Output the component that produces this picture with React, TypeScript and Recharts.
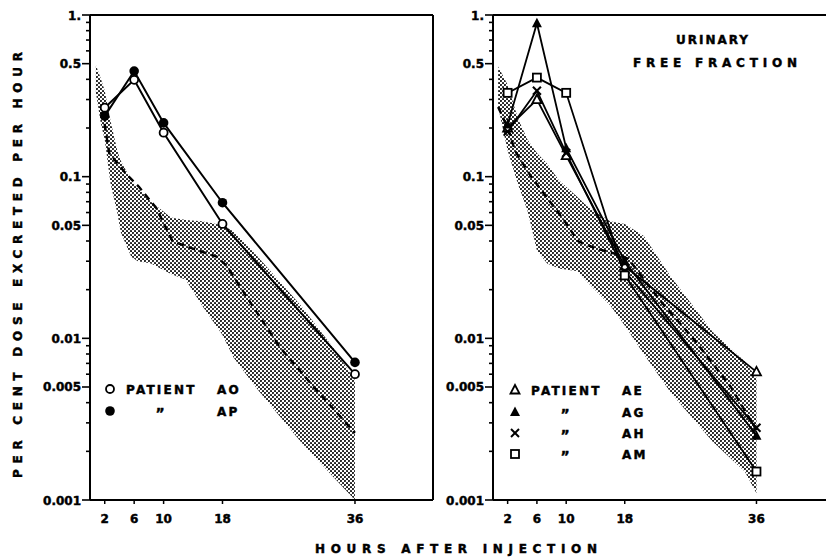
import React from "react";
import {
  ComposedChart,
  Line,
  Area,
  XAxis,
  YAxis,
  ReferenceLine,
} from "recharts";

// sampling times (hours after injection)
const hours = [2, 6, 10, 18, 36];

// left panel patients
const patientAO = [0.267, 0.397, 0.187, 0.051, 0.006];
const patientAP = [0.237, 0.45, 0.215, 0.069, 0.0071];

// right panel patients
const patientAE = [0.2, 0.3, 0.135, 0.028, 0.0062];
const patientAG = [0.21, 0.89, 0.15, 0.03, 0.0025];
const patientAH = [0.19, 0.34, 0.14, 0.026, 0.0028];
const patientAM = [0.33, 0.41, 0.33, 0.0245, 0.0015];

// normal range band, left panel: hour, low, high
const leftBandHours = [0.8, 1.5, 2, 2.8, 3.7, 4.2, 5.6, 6.5, 8.3, 11, 13, 15.2, 18, 19.5, 22.8, 28.6, 33, 36];
const leftBandLow = [0.33, 0.21, 0.17, 0.09, 0.06, 0.045, 0.032, 0.03, 0.029, 0.025, 0.023, 0.016, 0.0105, 0.0076, 0.0048, 0.0023, 0.0014, 0.001];
const leftBandHigh = [0.49, 0.4, 0.34, 0.22, 0.145, 0.125, 0.095, 0.085, 0.07, 0.056, 0.054, 0.053, 0.05, 0.046, 0.032, 0.016, 0.0088, 0.0055];

// mean curve, left panel
const leftMeanHours = [1.5, 2, 2.6, 4.9, 6.7, 9, 11.2, 13.1, 17.2, 18.6, 21.3, 25.8, 30.4, 36];
const leftMeanValues = [0.25, 0.21, 0.14, 0.104, 0.086, 0.064, 0.04, 0.037, 0.032, 0.028, 0.018, 0.0088, 0.005, 0.0026];

// normal range band, right panel
const rightBandHours = [0.7, 2, 3.4, 4.7, 6, 7.4, 9, 11.5, 13, 16, 18, 20.6, 24.3, 30, 34.4, 36];
const rightBandLow = [0.27, 0.145, 0.09, 0.062, 0.035, 0.029, 0.027, 0.026, 0.022, 0.016, 0.012, 0.008, 0.0046, 0.0023, 0.0015, 0.0011];
const rightBandHigh = [0.48, 0.37, 0.23, 0.17, 0.14, 0.12, 0.095, 0.075, 0.065, 0.053, 0.051, 0.043, 0.024, 0.011, 0.0072, 0.0057];

// mean curve, right panel
const rightMeanHours = [0.7, 2, 3, 5.2, 7.4, 9.8, 11.6, 14, 17.1, 18.5, 22.9, 27.5, 32.5, 36];
const rightMeanValues = [0.27, 0.2, 0.145, 0.1, 0.074, 0.053, 0.04, 0.036, 0.033, 0.031, 0.017, 0.0098, 0.005, 0.0027];

// y axis ticks
const yLabelled = [0.001, 0.005, 0.01, 0.05, 0.1, 0.5, 1];
const yLabelText = ["0.001", "0.005", "0.01", "0.05", "0.1", "0.5", "1."];
const yMinor = [
  0.002, 0.003, 0.004, 0.006, 0.007, 0.008, 0.009,
  0.02, 0.03, 0.04, 0.06, 0.07, 0.08, 0.09,
  0.2, 0.3, 0.4, 0.6, 0.7, 0.8, 0.9,
];

const FONT = "'DejaVu Sans', Verdana, sans-serif";

const toSeries = (vals: number[]) => hours.map((h, i) => ({ h, v: vals[i] }));
const toBand = (hs: number[], lo: number[], hi: number[]) =>
  hs.map((h, i) => ({ h, range: [lo[i], hi[i]] }));
const toMean = (hs: number[], vs: number[]) => hs.map((h, i) => ({ h, v: vs[i] }));

const yTicks = [...yLabelled, ...yMinor].sort((a, b) => a - b);

// heavy lettering look
const label = {
  fontFamily: FONT,
  fontWeight: "bold" as const,
  fontSize: 12,
  fill: "#000",
  stroke: "#000",
  strokeWidth: 0.45,
};

const YTick = (props: any) => {
  const { x, y, payload } = props;
  const idx = yLabelled.indexOf(payload.value);
  const major = idx >= 0;
  return (
    <g>
      <line x1={x - (major ? 8 : 4)} x2={x} y1={y} y2={y} stroke="#000" strokeWidth={1.6} />
      {major && (
        <text x={x - 9} y={y + 4.5} textAnchor="end" {...label}>
          {yLabelText[idx]}
        </text>
      )}
    </g>
  );
};

const XTick = (props: any) => {
  const { x, y, payload } = props;
  return (
    <g>
      <line x1={x} x2={x} y1={y} y2={y + 4} stroke="#000" strokeWidth={1.5} />
      <text x={x} y={y + 23} textAnchor="middle" {...label}>
        {payload.value}
      </text>
    </g>
  );
};

const Marker = ({ cx, cy, shape }: { cx: number; cy: number; shape: string }) => {
  if (cx == null || cy == null) return null;
  switch (shape) {
    case "openCircle":
      return <circle cx={cx} cy={cy} r={4} fill="#fff" stroke="#000" strokeWidth={1.8} />;
    case "filledCircle":
      return <circle cx={cx} cy={cy} r={4.8} fill="#000" />;
    case "openTriangle":
      return (
        <polygon
          points={`${cx},${cy - 5} ${cx - 4.5},${cy + 3.5} ${cx + 4.5},${cy + 3.5}`}
          fill="#fff"
          stroke="#000"
          strokeWidth={1.8}
        />
      );
    case "filledTriangle":
      return (
        <polygon
          points={`${cx},${cy - 5.5} ${cx - 5},${cy + 4} ${cx + 5},${cy + 4}`}
          fill="#000"
        />
      );
    case "cross":
      return (
        <g stroke="#000" strokeWidth={2}>
          <line x1={cx - 4} y1={cy - 4} x2={cx + 4} y2={cy + 4} />
          <line x1={cx - 4} y1={cy + 4} x2={cx + 4} y2={cy - 4} />
        </g>
      );
    case "openSquare":
      return (
        <rect x={cx - 4} y={cy - 4} width={8} height={8} fill="#fff" stroke="#000" strokeWidth={1.8} />
      );
    default:
      return null;
  }
};

const dotFor = (shape: string) => (p: any) =>
  <Marker key={`${shape}-${p.index}`} cx={p.cx} cy={p.cy} shape={shape} />;

const axisLine = { stroke: "#000", strokeWidth: 2 };

const Panel = ({
  left,
  width,
  yAxisWidth,
  xMax,
  band,
  mean,
  patients,
  rightBorder,
}: any) => (
  <div style={{ position: "absolute", left, top: 0 }}>
    <ComposedChart
      width={width}
      height={558}
      margin={{ top: 15, right: rightBorder ? 7 : 0, bottom: 0, left: 0 }}
    >
      <XAxis
        dataKey="h"
        type="number"
        domain={[0, xMax]}
        allowDataOverflow
        ticks={hours}
        interval={0}
        tick={<XTick />}
        tickLine={false}
        tickSize={0}
        tickMargin={0}
        axisLine={axisLine}
        height={58}
      />
      <YAxis
        type="number"
        scale="log"
        domain={[0.001, 1]}
        allowDataOverflow
        ticks={yTicks}
        interval={0}
        tick={<YTick />}
        tickLine={false}
        tickSize={0}
        tickMargin={0}
        axisLine={axisLine}
        width={yAxisWidth}
      />
      <ReferenceLine y={1} stroke="#000" strokeWidth={2} />
      {rightBorder && <ReferenceLine x={xMax} stroke="#000" strokeWidth={2} />}
      <Area
        data={band}
        dataKey="range"
        type="linear"
        stroke="none"
        fill="url(#stipple)"
        fillOpacity={1}
        dot={false}
        activeDot={false}
        isAnimationActive={false}
      />
      <Line
        data={mean}
        dataKey="v"
        type="linear"
        stroke="#000"
        strokeWidth={2.4}
        strokeDasharray="7 5"
        dot={false}
        activeDot={false}
        isAnimationActive={false}
      />
      {patients.map((p: any) => (
        <Line
          key={p.name}
          data={p.data}
          dataKey="v"
          type="linear"
          stroke="#000"
          strokeWidth={p.width ?? 2}
          dot={dotFor(p.shape)}
          activeDot={false}
          isAnimationActive={false}
        />
      ))}
    </ComposedChart>
  </div>
);

const LegendRow = ({ x, y, shape, first, name }: any) => (
  <g>
    <Marker cx={x} cy={y} shape={shape} />
    {first ? (
      <text x={x + 16} y={y + 4.5} {...label} letterSpacing={2.2}>
        PATIENT
      </text>
    ) : (
      <text x={x + 50} y={y + 7} {...label} fontSize={14} textAnchor="middle">
        {"\u201D"}
      </text>
    )}
    <text x={x + 107} y={y + 4.5} {...label} letterSpacing={2.2}>
      {name}
    </text>
  </g>
);

export default function App() {
  const leftPatients = [
    { name: "AO", shape: "openCircle", data: toSeries(patientAO) },
    { name: "AP", shape: "filledCircle", data: toSeries(patientAP) },
  ];
  const rightPatients = [
    { name: "AE", shape: "openTriangle", data: toSeries(patientAE), width: 1.8 },
    { name: "AG", shape: "filledTriangle", data: toSeries(patientAG), width: 1.8 },
    { name: "AH", shape: "cross", data: toSeries(patientAH), width: 1.8 },
    { name: "AM", shape: "openSquare", data: toSeries(patientAM), width: 1.8 },
  ];

  return (
    <div
      style={{
        position: "absolute",
        left: 0,
        top: 0,
        width: 826,
        height: 558,
        background: "#fff",
        overflow: "hidden",
      }}
    >
      <svg width={0} height={0} style={{ position: "absolute" }}>
        <defs>
          <pattern id="stipple" width={4} height={4} patternUnits="userSpaceOnUse">
            <circle cx={1} cy={1} r={1.05} fill="#111" />
            <circle cx={3} cy={3} r={1.05} fill="#111" />
          </pattern>
        </defs>
      </svg>

      <Panel
        left={0}
        width={440}
        yAxisWidth={90}
        xMax={46.6}
        band={toBand(leftBandHours, leftBandLow, leftBandHigh)}
        mean={toMean(leftMeanHours, leftMeanValues)}
        patients={leftPatients}
        rightBorder
      />
      <Panel
        left={400}
        width={426}
        yAxisWidth={93}
        xMax={45.5}
        band={toBand(rightBandHours, rightBandLow, rightBandHigh)}
        mean={toMean(rightMeanHours, rightMeanValues)}
        patients={rightPatients}
        rightBorder={false}
      />

      <svg
        width={826}
        height={558}
        style={{ position: "absolute", left: 0, top: 0, pointerEvents: "none" }}
      >
        <text
          transform="translate(22,265) rotate(-90)"
          textAnchor="middle"
          {...label}
          textLength={426}
          lengthAdjust="spacing"
        >
          PER CENT DOSE EXCRETED PER HOUR
        </text>
        <text
          x={456}
          y={553}
          textAnchor="middle"
          {...label}
          textLength={282}
          lengthAdjust="spacing"
        >
          HOURS AFTER INJECTION
        </text>
        <text x={713} y={44} textAnchor="middle" {...label} letterSpacing={2}>
          URINARY
        </text>
        <text
          x={715}
          y={67}
          textAnchor="middle"
          {...label}
          textLength={164}
          lengthAdjust="spacing"
        >
          FREE FRACTION
        </text>

        <LegendRow x={110} y={389} shape="openCircle" first name="AO" />
        <LegendRow x={110} y={411} shape="filledCircle" name="AP" />

        <LegendRow x={515} y={390} shape="openTriangle" first name="AE" />
        <LegendRow x={515} y={412} shape="filledTriangle" name="AG" />
        <LegendRow x={515} y={433} shape="cross" name="AH" />
        <LegendRow x={515} y={454} shape="openSquare" name="AM" />
      </svg>
    </div>
  );
}
